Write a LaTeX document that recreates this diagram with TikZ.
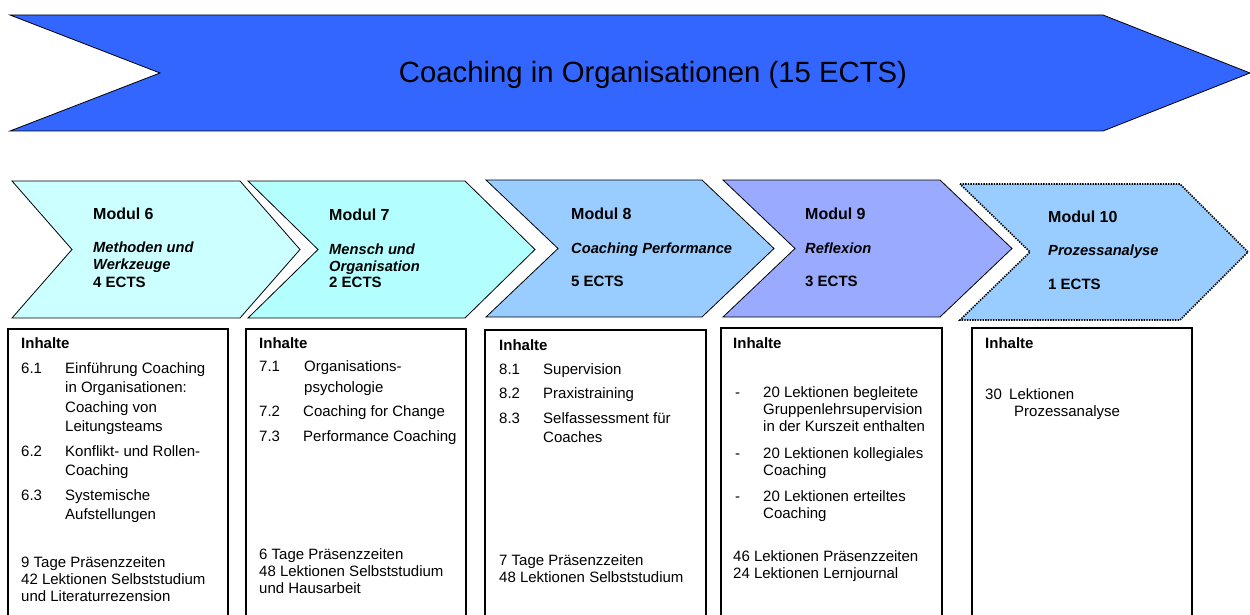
\documentclass[tikz,border=0pt]{standalone}
\usepackage{fontspec}
\setmainfont{Liberation Sans}
\usetikzlibrary{positioning}

\definecolor{banner}{HTML}{3366FF}
\definecolor{mod6}{HTML}{CCFFFF}
\definecolor{mod7}{HTML}{B3FFFF}
\definecolor{mod8}{HTML}{99CCFF}
\definecolor{mod9}{HTML}{99AAFF}
\definecolor{mod10}{HTML}{99CCFF}

\begin{document}
\begin{tikzpicture}[
      x = 1pt,
      y = -1pt
    ]

    \tikzstyle{chevron} = [
        draw,
        line width=0.8pt,
    ]

    \tikzstyle{kasten} = [
        draw,
        line width=1.2pt,
    ]

    \tikzstyle{modul} = [
        anchor=base west,
        inner sep=0pt,
        font=\fontsize{16}{19}\selectfont\bfseries
    ]

    % mehrzeilige Knoten: base = letzte Zeile
    \tikzstyle{thema} = [
        anchor=base west,
        inner sep=0pt,
        align=left,
        font=\fontsize{14.7}{17}\selectfont\bfseries\itshape
    ]

    \tikzstyle{ects} = [
        anchor=base west,
        inner sep=0pt,
        font=\fontsize{15}{18}\selectfont\bfseries
    ]

    \tikzstyle{kopf} = [
        anchor=base west,
        inner sep=0pt,
        font=\fontsize{15}{17}\selectfont\bfseries
    ]

    \tikzstyle{inhalt} = [
        anchor=base west,
        inner sep=0pt,
        align=left,
        font=\fontsize{15}{19.5}\selectfont
    ]

    \tikzstyle{zeit} = [
        anchor=base west,
        inner sep=0pt,
        align=left,
        font=\fontsize{15}{17.3}\selectfont
    ]

    \useasboundingbox (0,0) rectangle (1250,615);

    % Banner
    \draw [chevron, fill=banner] (10,15) -- (1103,15) -- (1250,73) -- (1103,131) -- (10,131) -- (160,73) -- cycle;
    \node [font=\fontsize{29.3}{34}\selectfont] (titel) at (653,75) {Coaching in Organisationen (15 ECTS)};

    % Module
    \foreach \l/\r/\d/\t/\b/\c in {12/240/60/181/318/mod6, 248/465/70/181/318/mod7, 486/702/72/180/317/mod8, 723/940/72/180/317/mod9}
        \draw [chevron, fill=\c] (\l,\t) -- (\r,\t) -- (\r+\d,{(\t+\b)/2}) -- (\r,\b) -- (\l,\b) -- (\l+\d,{(\t+\b)/2}) -- cycle;
    \draw [fill=mod10, line width=1.6pt, dash pattern=on 1.4pt off 1.2pt] (960,184) -- (1180,184) -- (1248,252) -- (1180,320) -- (960,320) -- (1030,252) -- cycle;

    \node [modul] (m6) at (93,219) {Modul 6};
    \node [thema] (t6) at (93,269) {Methoden und\\Werkzeuge};
    \node [ects]  (e6) at (93,287) {4 ECTS};

    \node [modul] (m7) at (329,220) {Modul 7};
    \node [thema] (t7) at (329,271) {Mensch und\\Organisation};
    \node [ects]  (e7) at (329,287) {2 ECTS};

    \node [modul] (m8) at (571,219) {Modul 8};
    \node [thema] (t8) at (571,253) {Coaching Performance};
    \node [ects]  (e8) at (571,286) {5 ECTS};

    \node [modul] (m9) at (805,219) {Modul 9};
    \node [thema] (t9) at (805,253) {Reflexion};
    \node [ects]  (e9) at (805,286) {3 ECTS};

    \node [modul] (m10) at (1048,222) {Modul 10};
    \node [thema] (t10) at (1048,255) {Prozessanalyse};
    \node [ects]  (e10) at (1048,289) {1 ECTS};

    % Inhalte
    \draw [kasten] (8,329) rectangle (228,640);
    \draw [kasten] (246,329) rectangle (466,640);
    \draw [kasten] (485,330) rectangle (706,640);
    \draw [kasten] (721,328) rectangle (942,640);
    \draw [kasten] (972,328) rectangle (1192,640);

    \node [kopf]   (k6)  at (21,348) {Inhalte};
    \node [inhalt] (n61) at (21,373) {6.1};
    \node [inhalt] (p61) at (65,431.5) {Einführung Coaching\\in Organisationen:\\Coaching von\\Leitungsteams};
    \node [inhalt] (n62) at (21,456) {6.2};
    \node [inhalt] (p62) at (65,475.5) {Konflikt- und Rollen-\\Coaching};
    \node [inhalt] (n63) at (21,500) {6.3};
    \node [inhalt] (p63) at (65,519.5) {Systemische\\Aufstellungen};
    \node [zeit]   (z6)  at (21,601.6) {9 Tage Präsenzzeiten\\42 Lektionen Selbststudium\\und Literaturrezension};

    \node [kopf]   (k7)  at (259,348) {Inhalte};
    \node [inhalt] (n71) at (259,371) {7.1};
    \node [inhalt] (p71) at (304,392) {Organisations-\\[1.5pt]psychologie};
    \node [inhalt] (n72) at (259,416) {7.2};
    \node [inhalt] (p72) at (303,416) {Coaching for Change};
    \node [inhalt] (n73) at (259,441) {7.3};
    \node [inhalt] (p73) at (303,441) {Performance Coaching};
    \node [zeit]   (z7)  at (259,593.6) {6 Tage Präsenzzeiten\\48 Lektionen Selbststudium\\und Hausarbeit};

    \node [kopf]   (k8)  at (499,350) {Inhalte};
    \node [inhalt] (n81) at (499,374) {8.1};
    \node [inhalt] (p81) at (543,374) {Supervision};
    \node [inhalt] (n82) at (499,398) {8.2};
    \node [inhalt] (p82) at (543,398) {Praxistraining};
    \node [inhalt] (n83) at (499,423) {8.3};
    \node [inhalt] (p83) at (543,442.5) {Selfassessment für\\Coaches};
    \node [zeit]   (z8)  at (499,582.3) {7 Tage Präsenzzeiten\\48 Lektionen Selbststudium};

    \node [kopf]   (k9)  at (733,348) {Inhalte};
    \node [zeit]   (s91) at (735,397) {-};
    \node [zeit]   (q91) at (763,431.6) {20 Lektionen begleitete\\Gruppenlehrsupervision\\in der Kurszeit enthalten};
    \node [zeit]   (s92) at (735,458) {-};
    \node [zeit]   (q92) at (763,475.3) {20 Lektionen kollegiales\\Coaching};
    \node [zeit]   (s93) at (735,501) {-};
    \node [zeit]   (q93) at (763,518.3) {20 Lektionen erteiltes\\Coaching};
    \node [zeit]   (z9)  at (733,578.3) {46 Lektionen Präsenzzeiten\\24 Lektionen Lernjournal};

    \node [kopf]   (k10) at (985,348) {Inhalte};
    \node [zeit]   (n10) at (985,399) {30};
    \node [zeit]   (p10) at (1009,416.3) {Lektionen\\\hspace*{5pt}Prozessanalyse};

    \end{tikzpicture}
\end{document}
